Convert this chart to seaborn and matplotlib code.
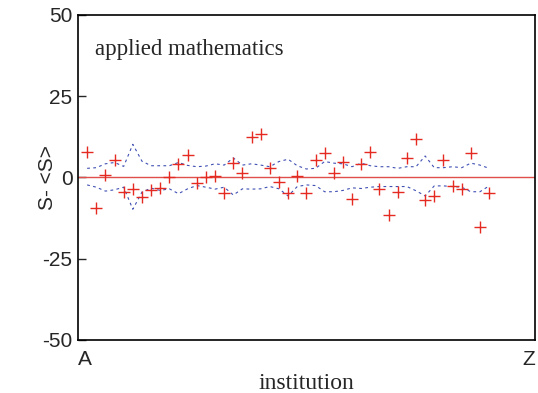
import numpy as np
import pandas as pd
import matplotlib
matplotlib.use("Agg")
import matplotlib.pyplot as plt
import matplotlib.transforms as mtransforms
import seaborn as sns

# deviation of each institution from the mean score, S - <S>
deviation = [7.9, -9.3, 0.8, 5.4, -4.4, -3.5, -6.1, -3.8, -3.3, 0.2,
             4.1, 6.9, -1.6, 0.1, 0.5, -4.7, 4.4, 1.3, 12.4, 13.4,
             2.8, -1.5, -4.9, 0.5, -4.9, 5.4, 7.6, 1.5, 4.6, -6.6,
             4.1, 7.9, -3.5, -11.7, -4.6, 6.1, 11.7, -6.9, -5.6, 5.3,
             -2.6, -3.6, 7.4, -15.3, -4.7]

# upper / lower confidence band (dashed)
upper = [2.8, 3.0, 4.2, 4.6, 3.4, 10.2, 5.0, 3.6, 3.6, 3.6,
         4.6, 3.7, 3.3, 3.5, 4.2, 3.8, 6.0, 3.8, 4.2, 3.8,
         3.3, 4.9, 5.6, 3.6, 2.6, 2.8, 4.9, 4.4, 4.2, 3.3,
         4.4, 3.6, 3.3, 3.3, 2.8, 3.3, 3.3, 6.6, 3.0, 3.0,
         3.3, 3.0, 4.4, 3.8, 2.8]
lower = [-2.3, -3.0, -4.2, -3.8, -3.0, -9.8, -4.5, -3.3, -4.0, -3.5,
         -5.0, -3.5, -2.5, -3.0, -3.6, -3.0, -5.4, -3.5, -3.6, -3.5,
         -2.8, -3.5, -5.7, -2.8, -2.3, -2.5, -4.4, -4.4, -4.0, -3.2,
         -3.4, -3.0, -2.8, -2.8, -2.8, -2.8, -4.1, -5.7, -2.6, -2.6,
         -2.8, -3.0, -4.4, -4.4, -2.6]

n_total = 50
x_ticks = [0, n_total]
x_ticklabels = ["A", "Z"]
y_ticks = [-50, -25, 0, 25, 50]

df = pd.DataFrame({
    "rank": np.arange(1, len(deviation) + 1),
    "dev": deviation,
    "upper": upper,
    "lower": lower,
})

sns.set_style("white")
plt.rcParams["font.family"] = ["Liberation Sans", "DejaVu Sans"]

fig = plt.figure(figsize=(5.38, 3.93), dpi=100)
ax = fig.add_axes([0.145, 0.135, 0.849, 0.827])

ax.axhline(0, color="#e0504a", lw=1.0, zorder=1)
sns.lineplot(data=df, x="rank", y="upper", ax=ax, color="#4050b4", lw=0.8,
             dashes=False, linestyle=(0, (2.5, 3)), zorder=2)
sns.lineplot(data=df, x="rank", y="lower", ax=ax, color="#4050b4", lw=0.8,
             dashes=False, linestyle=(0, (2.5, 3)), zorder=2)
sns.scatterplot(data=df, x="rank", y="dev", ax=ax, marker="+", s=65,
                color="#e52a22", linewidth=1.0, zorder=3)

ax.set_xlim(0, n_total)
ax.set_ylim(-50, 50)
ax.set_yticks(y_ticks)
ax.set_yticklabels([str(v) for v in y_ticks], fontsize=15)
ax.set_xticks(x_ticks)
ax.set_xticklabels(x_ticklabels, fontsize=15)
xl = ax.get_xticklabels()
xl[0].set_ha("left")
xl[1].set_ha("right")
xl[1].set_transform(xl[1].get_transform() +
                    mtransforms.ScaledTranslation(-5 / 100, 0, fig.dpi_scale_trans))
ax.tick_params(axis="y", direction="in", length=6, width=1, left=True, pad=4)
ax.tick_params(axis="x", length=0, pad=7)

for s in ax.spines.values():
    s.set_color("black")
    s.set_linewidth(1.2)

ax.set_ylabel("S- <S>", fontsize=15)
ax.yaxis.set_label_coords(-0.045, 0.5)
ax.set_xlabel("institution", fontsize=17, family="Liberation Serif", labelpad=3)
ax.text(1.9, 39.3, "applied mathematics", fontsize=16.5, family="Liberation Serif",
        va="center", ha="left")

fig.savefig("out.png", dpi=100)
